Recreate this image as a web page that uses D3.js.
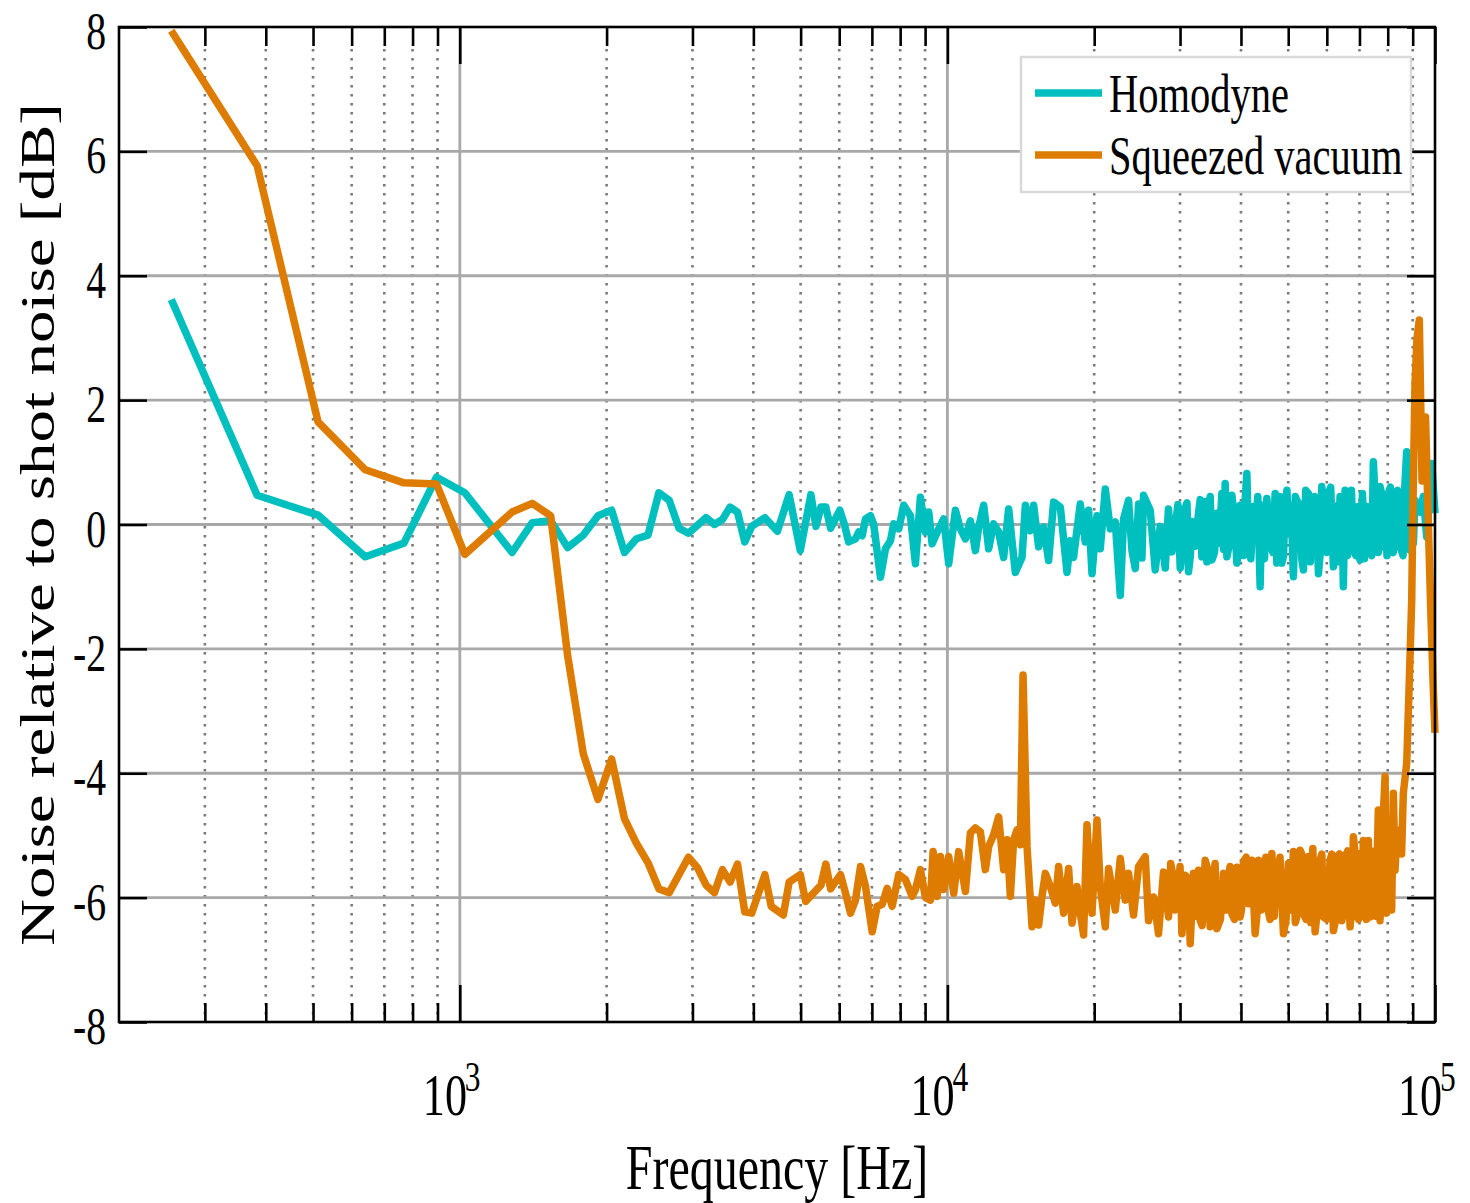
<!DOCTYPE html>
<html>
<head>
<meta charset="utf-8">
<script src="https://cdn.jsdelivr.net/npm/d3@7"></script>
<style>
  body { margin: 0; background: #fff; }
  text { font-family: "Liberation Serif", "Times New Roman", serif; fill: #000; }
</style>
</head>
<body>
<div id="chart"></div>
<script>
// frequency [Hz] / noise [dB]
var freqHom = [256,384,512,640,768,896,1024,1280,1408,1536,1664,1792,1920,2048,2176,2304,2432,2560,2688,2816,2944,
  3200,3328,3456,3584,3712,3840,3968,4224,4480,4736,4992,5248,5376,5504,5632,5760,6016,6144,6272,
  6479,6581,6687,6792,6954,7063,7289,7463,7641,7762,7947,8136,8398,8598,8803,9015,9157,9304,9598,9827,
  10061,10385,10632,10886,11146,11413,11592,11869,12151,12442,12739,13042,13353,13782,14223,14450,14795,15026,15385,15753,
  16128,16513,17044,17591,17866,18139,18730,19177,19478,19793,20266,20583,21076,21579,22094,22622,22979,23524,23906,24280,
  24662,25060,25250,26061,26681,27320,27973,28872,29324,30023,30494,31221,31727,32730,33261,33782,34311,34867,35703,36551,
  37128,37427,38318,39234,39849,41129,41440,42431,42773,43792,44143,45198,45909,47007,47383,48515,49277,50049,51242,52074,
  53723,55000,55888,57664,58591,59512,60446,61885,63872,64875,65400,66957,68012,69633,70188,72459,73587,74747,75954,77145,
  78353,80227,81522,82800,84779,87495,88870,91000,93171,94630,96161,98454,100000];
var dbHom = [3.62,0.47,0.15,-0.52,-0.30,0.76,0.51,-0.45,0.03,0.06,-0.37,-0.17,0.14,0.23,-0.45,-0.23,-0.17,0.51,0.39,-0.06,-0.14,
  0.11,0.00,0.08,0.28,0.20,-0.28,-0.03,0.11,-0.11,0.48,-0.42,0.48,-0.03,0.28,0.28,-0.06,0.23,0.01,-0.28,
  -0.23,-0.12,-0.18,0.09,0.14,0.00,-0.85,-0.39,-0.26,0.01,-0.07,0.31,0.14,-0.63,0.44,-0.12,0.20,-0.31,-0.07,0.09,
  -0.63,0.23,-0.07,-0.23,0.06,-0.42,-0.04,0.31,-0.39,0.01,-0.12,-0.53,0.25,-0.77,-0.53,0.31,-0.10,0.31,-0.36,-0.04,
  -0.58,0.36,0.28,-0.77,-0.26,-0.53,0.33,-0.28,0.23,-0.79,0.14,-0.39,0.57,-0.07,0.04,-1.14,0.09,0.39,-0.42,-0.71,
  0.33,-0.54,0.47,0.23,-0.73,-0.03,-0.70,-0.44,-0.03,-0.70,0.18,-0.76,0.05,0.18,-0.52,0.37,0.29,-0.57,0.18,0.50,
  0.66,-0.52,0.47,-0.62,0.31,0.82,-0.20,0.29,-0.25,-1.00,0.31,0.42,-0.30,0.50,-0.62,-0.62,0.34,-0.14,-0.84,0.39,
  -0.73,0.50,-0.03,-0.79,0.61,-0.36,0.50,-0.68,0.45,-1.00,0.55,0.39,-0.41,0.29,-0.57,0.29,-0.41,1.01,-0.30,0.61,
  -0.36,0.50,-0.41,0.47,-0.36,1.17,-0.41,0.39,0.20,0.45,-0.20,0.98,0.18];
// extra samples where the trace is a dense band (28-90 kHz)
var freqHomBand = [28400,29700,30250,31000,31500,32200,33000,33500,34050,34600,35300,36100,36850,37800,38800,39550,
  40500,40800,41900,43300,44700,46500,48000,48900,49700,50700,51700,52900,53300,54300,55500,56700,57200,58100,
  59000,60000,61100,62800,63300,64400,66100,67400,68800,71000,71700,74200,75300,76500,77700,79200,79700,81000,
  82100,83800,86000,86700,88200,89700,90300];
var dbHomBand = [0.25,0.32,-0.45,0.35,-0.50,-0.35,0.40,-0.20,-0.60,0.45,-0.45,-0.30,-0.40,-0.35,0.10,-0.45,
  -0.50,0.40,-0.55,0.45,-0.55,-0.45,0.45,-0.50,0.55,0.30,0.45,0.30,-0.55,0.55,-0.60,0.45,0.30,-0.50,
  0.40,-0.45,0.60,0.30,-0.60,0.35,-0.50,0.55,-0.50,0.50,-0.55,-0.50,0.50,-0.45,0.50,0.35,-0.50,0.60,
  -0.45,0.55,-0.50,0.60,0.70,0.45,-0.30];

var freqSq = [256,384,512,640,768,896,1024,1280,1408,1536,1664,1792,1920,2048,2176,2304,2432,2560,2688,2944,
  3072,3200,3328,3456,3584,3712,3840,3968,4224,4352,4608,4736,4992,5120,5504,5632,5760,6036,6181,6328,
  6479,6634,6792,7010,7177,7349,7524,7703,7947,8202,8466,8598,8803,9015,9230,9347,9526,9675,9827,10061,
  10302,10547,10886,11146,11413,11684,11963,12151,12442,12739,13042,13254,13461,13672,13893,14112,14293,14565,14914,15147,
  15385,15633,15879,16258,16646,16908,17312,17724,18011,18441,18730,19025,19332,19793,20266,20583,21076,21406,22094,22622,
  23162,23524,24087,24662,25453,25852,26468,27101,27747,28416,29090,29558,30266,30741,31474,31968,32730,32995,33782,34589,
  35130,35703,36833,37709,38318,39234,39849,40472,41440,42773,43442,44481,45538,46280,47383,48881,50049,51242,52074,52891,
  53723,55000,56158,56768,58124,59039,60932,61885,62888,64390,65400,66957,68012,69109,70188,71299,72999,73587,74747,76526,
  77145,78988,80227,82143,82800,84779,86105,87495,88457,89590,90145,91000,91862,92860,94053,95620,96752,98130,99061,100000];
var dbSq = [7.94,5.77,1.65,0.88,0.67,0.65,-0.48,0.20,0.34,0.14,-2.11,-3.69,-4.42,-3.77,-4.73,-5.13,-5.44,-5.86,-5.92,-5.35,
  -5.52,-5.80,-5.92,-5.55,-5.75,-5.46,-6.23,-6.25,-5.63,-6.14,-6.28,-5.75,-5.63,-6.06,-5.80,-5.46,-5.86,-5.63,-5.93,-6.25,
  -6.04,-5.50,-5.82,-6.55,-6.14,-6.11,-5.85,-6.14,-5.63,-5.71,-5.98,-5.87,-5.55,-6.00,-6.04,-5.26,-5.98,-5.34,-5.87,-5.34,
  -5.93,-5.26,-5.90,-4.96,-4.88,-4.94,-5.55,-5.18,-4.99,-4.70,-5.55,-5.07,-5.98,-5.07,-4.91,-5.15,-2.42,-5.18,-6.47,-6.04,
  -6.44,-5.98,-5.61,-5.82,-6.09,-5.50,-6.25,-5.53,-6.41,-5.82,-6.25,-6.60,-4.83,-6.25,-4.75,-5.82,-6.47,-5.53,-6.20,-5.37,
  -6.04,-5.61,-6.28,-5.50,-5.34,-6.37,-5.99,-6.58,-5.59,-6.31,-5.69,-6.15,-6.58,-5.64,-6.74,-5.61,-5.56,-6.37,-5.40,-6.47,
  -5.69,-6.50,-5.61,-5.64,-6.26,-5.51,-6.31,-5.42,-6.10,-6.58,-5.40,-5.56,-6.23,-5.29,-5.61,-6.58,-5.45,-5.26,-6.31,-5.24,
  -6.26,-5.34,-5.21,-6.55,-5.40,-6.31,-5.40,-6.53,-5.34,-6.37,-5.34,-6.47,-5.02,-6.26,-5.29,-5.08,-5.08,-6.31,-5.40,-4.59,
  -6.37,-4.05,-5.67,-4.32,-5.56,-4.91,-4.32,-3.84,-2.66,-1.21,0.39,2.27,3.00,3.29,0.70,1.73,0.20,-1.50,-2.50,-3.35];
var freqSqBand = [28700,29300,30000,31200,32400,33300,34200,35400,36300,37300,38000,38800,40100,41000,42100,43100,
  44000,45000,45900,46800,48100,49500,50600,51700,53300,54400,55600,57400,58600,60000,61400,62400,63700,64900,
  66200,67500,68600,69700,70800,72300,74100,75600,77800,79500,81000,81500,83500,85400];
var dbSqBand = [-5.45,-6.20,-5.50,-5.70,-6.30,-6.45,-5.55,-5.45,-6.35,-6.20,-5.50,-6.35,-6.20,-5.35,-5.40,-6.30,
  -6.20,-5.35,-6.35,-6.30,-5.35,-6.35,-6.20,-6.40,-5.30,-6.35,-6.40,-6.20,-5.30,-6.35,-5.30,-6.40,-5.30,-6.25,
  -5.25,-6.20,-5.30,-6.35,-6.30,-6.35,-5.25,-6.30,-5.20,-6.25,-5.10,-6.20,-5.00,-5.30];

var seriesNames = ["Homodyne", "Squeezed vacuum"];
var yTicks = [-8,-6,-4,-2,0,2,4,6,8];
var yTickLabels = ["-8","-6","-4","-2","0","2","4","6","8"];
var yGrid = [-6,-4,-2,0,2,4,6];
var xMajor = [1e3, 1e4, 1e5];
var xMajorExp = ["3","4","5"];
var xMinor = [300,400,500,600,700,800,900,2000,3000,4000,5000,6000,7000,8000,9000,
  20000,30000,40000,50000,60000,70000,80000,90000];

var colors = ["#00BFBF", "#DD7C00"];

var width = 1470, height = 1203;
var plotL = 119, plotR = 1435, plotT = 27, plotB = 1022;

var x = d3.scaleLog().domain([200, 1e5]).range([plotL, plotR]);
var y = d3.scaleLinear().domain([-8, 8]).range([plotB, plotT]);

var svg = d3.select("#chart").append("svg")
    .attr("width", width)
    .attr("height", height)
    .style("display", "block");

svg.append("rect").attr("width", width).attr("height", height).attr("fill", "#fff");

// grid
var grid = svg.append("g").attr("class", "grid");
grid.selectAll(".minor")
    .data(xMinor)
    .enter()
    .append("line")
    .attr("x1", function(d){ return x(d); })
    .attr("x2", function(d){ return x(d); })
    .attr("y1", plotT + 22)
    .attr("y2", plotB)
    .attr("stroke", "#7a7a7a")
    .attr("stroke-width", 2.6)
    .attr("stroke-dasharray", "2.6,6.4");
grid.selectAll(".vmajor")
    .data(xMajor.slice(0, 2))
    .enter()
    .append("line")
    .attr("x1", function(d){ return x(d); })
    .attr("x2", function(d){ return x(d); })
    .attr("y1", plotT)
    .attr("y2", plotB)
    .attr("stroke", "#a8a8a8")
    .attr("stroke-width", 2.8);
grid.selectAll(".hmajor")
    .data(yGrid)
    .enter()
    .append("line")
    .attr("x1", plotL)
    .attr("x2", plotR)
    .attr("y1", function(d){ return y(d); })
    .attr("y2", function(d){ return y(d); })
    .attr("stroke", "#a8a8a8")
    .attr("stroke-width", 2.8);

// data lines
var line = d3.line()
    .x(function(d){ return x(d[0]); })
    .y(function(d){ return y(d[1]); });

function merged(f1, v1, f2, v2) {
    return d3.zip(f1, v1).concat(d3.zip(f2, v2)).sort(function(a, b){ return a[0] - b[0]; });
}
var series = [merged(freqHom, dbHom, freqHomBand, dbHomBand), merged(freqSq, dbSq, freqSqBand, dbSqBand)];
svg.append("g").selectAll("path")
    .data(series)
    .enter()
    .append("path")
    .attr("d", line)
    .attr("fill", "none")
    .attr("stroke", function(d, i){ return colors[i]; })
    .attr("stroke-width", 7.5)
    .attr("stroke-linejoin", "round");

// ticks (inside)
function styleAxis(g) {
    g.select(".domain").remove();
    g.selectAll(".tick text").remove();
    g.selectAll(".tick line").attr("stroke", "#000").attr("stroke-width", 2.6);
}
svg.append("g").attr("transform", "translate(0," + plotB + ")")
    .call(d3.axisBottom(x).tickValues(xMinor).tickSize(-19)).call(styleAxis);
svg.append("g").attr("transform", "translate(0," + plotB + ")")
    .call(d3.axisBottom(x).tickValues(xMajor).tickSize(-37)).call(styleAxis);
svg.append("g").attr("transform", "translate(0," + plotT + ")")
    .call(d3.axisTop(x).tickValues(xMinor).tickSize(-19)).call(styleAxis);
svg.append("g").attr("transform", "translate(0," + plotT + ")")
    .call(d3.axisTop(x).tickValues(xMajor).tickSize(-37)).call(styleAxis);
svg.append("g").attr("transform", "translate(" + plotL + ",0)")
    .call(d3.axisLeft(y).tickValues(yTicks).tickSize(-28)).call(styleAxis);
svg.append("g").attr("transform", "translate(" + plotR + ",0)")
    .call(d3.axisRight(y).tickValues(yTicks).tickSize(-28)).call(styleAxis);

svg.append("rect")
    .attr("x", plotL).attr("y", plotT)
    .attr("width", plotR - plotL).attr("height", plotB - plotT)
    .attr("fill", "none").attr("stroke", "#000").attr("stroke-width", 2.6);

// tick labels (text is drawn narrow, like the original)
svg.append("g").selectAll("text")
    .data(yTicks)
    .enter()
    .append("text")
    .attr("transform", function(d){ return "translate(106," + (y(d) + 4) + ") scale(0.75,1)"; })
    .attr("text-anchor", "end")
    .attr("dy", "0.34em")
    .style("font-size", "53px")
    .text(function(d, i){ return yTickLabels[i]; });

var xl = svg.append("g").selectAll("text")
    .data(xMajor)
    .enter()
    .append("text")
    .attr("transform", function(d){ return "translate(" + (x(d) - 37) + ",1115) scale(0.75,1)"; })
    .attr("text-anchor", "start");
xl.append("tspan").style("font-size", "59px").text("10");
xl.append("tspan").style("font-size", "42px").attr("dx", -3).attr("dy", -24)
    .text(function(d, i){ return xMajorExp[i]; });

svg.append("text")
    .attr("transform", "translate(" + ((plotL + plotR) / 2) + ",1189) scale(0.75,1)")
    .attr("text-anchor", "middle")
    .style("font-size", "64px")
    .text("Frequency [Hz]");

svg.append("text")
    .attr("transform", "translate(54," + ((plotT + plotB) / 2) + ") rotate(-90) scale(1,0.75)")
    .attr("text-anchor", "middle")
    .style("font-size", "65px")
    .text("Noise relative to shot noise [dB]");

// legend
var legend = svg.append("g").attr("class", "legend");
legend.append("rect")
    .attr("x", 1021).attr("y", 57)
    .attr("width", 390).attr("height", 135)
    .attr("fill", "#fff").attr("stroke", "#d9d9d9").attr("stroke-width", 2.5);
var items = legend.selectAll(".item")
    .data(seriesNames)
    .enter()
    .append("g")
    .attr("transform", function(d, i){ return "translate(0," + (93 + i * 62) + ")"; });
items.append("line")
    .attr("x1", 1035).attr("x2", 1102)
    .attr("stroke", function(d, i){ return colors[i]; })
    .attr("stroke-width", 7.5);
items.append("text")
    .attr("transform", "translate(1109,19) scale(0.75,1)")
    .style("font-size", "54px")
    .text(function(d){ return d; });
</script>
</body>
</html>
